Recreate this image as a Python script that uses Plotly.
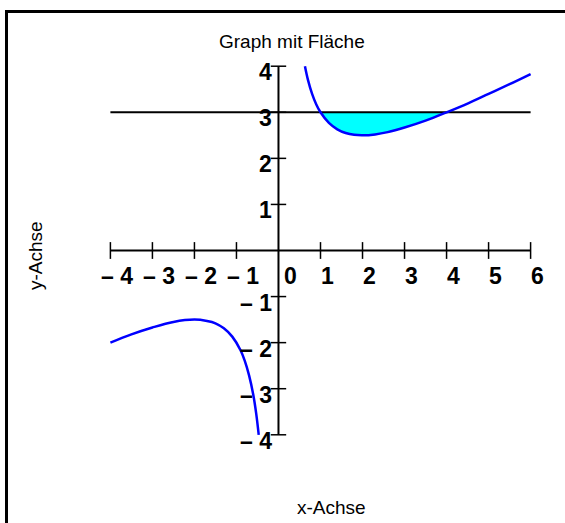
import plotly.graph_objects as go

# Curve samples, right branch (x > 0)
right_x = [0.63, 0.70, 0.80, 0.90, 1.00, 1.20, 1.40, 1.60, 1.80, 2.00,
           2.30, 2.60, 3.00, 3.50, 4.00, 4.50, 5.00, 5.50, 6.00]
right_y = [4.00, 3.71, 3.40, 3.17, 3.00, 2.77, 2.63, 2.55, 2.51, 2.50,
           2.52, 2.57, 2.67, 2.82, 3.00, 3.19, 3.40, 3.61, 3.83]

# Curve samples, left branch (x < 0)
left_x = [-4.00, -3.50, -3.00, -2.50, -2.00, -1.70, -1.50, -1.30, -1.10,
          -0.90, -0.80, -0.70, -0.60, -0.53, -0.47]
left_y = [-2.00, -1.82, -1.67, -1.55, -1.50, -1.53, -1.58, -1.69, -1.87,
          -2.17, -2.40, -2.71, -3.13, -3.54, -4.00]

# Horizontal bound of the shaded area and its x-interval
line_level = 3
area_from, area_to = 1.0, 4.0

x_ticks = [-4, -3, -2, -1, 1, 2, 3, 4, 5, 6]
y_ticks = [-4, -3, -2, -1, 1, 2, 3, 4]
x_min, x_max = -4, 6
y_min, y_max = -4, 4


def tick_text(v):
    return ("\u2013 " + str(abs(v))) if v < 0 else str(v)


fig = go.Figure()

# shaded area between the curve and the horizontal line
seg = [(x, y) for x, y in zip(right_x, right_y) if area_from <= x <= area_to]
poly_x = [p[0] for p in seg] + [area_to, area_from]
poly_y = [p[1] for p in seg] + [line_level, line_level]
fig.add_trace(go.Scatter(x=poly_x, y=poly_y, mode="lines", fill="toself",
                         fillcolor="#00FFFF", line=dict(width=0, color="#00FFFF"),
                         hoverinfo="skip"))

# horizontal line y = 3
fig.add_trace(go.Scatter(x=[x_min, x_max], y=[line_level, line_level], mode="lines",
                         line=dict(color="black", width=2)))

# coordinate axes
fig.add_trace(go.Scatter(x=[x_min, x_max], y=[0, 0], mode="lines",
                         line=dict(color="black", width=2)))
fig.add_trace(go.Scatter(x=[0, 0], y=[y_min, y_max], mode="lines",
                         line=dict(color="black", width=2)))

# tick marks
fig.add_trace(go.Scatter(x=x_ticks, y=[0] * len(x_ticks), mode="markers",
                         marker=dict(symbol="line-ns", size=12,
                                     line=dict(color="black", width=1.5))))
fig.add_trace(go.Scatter(x=[0] * len(y_ticks), y=y_ticks, mode="markers",
                         marker=dict(symbol="line-ew", size=11,
                                     line=dict(color="black", width=1.5))))

# function graph
fig.add_trace(go.Scatter(x=right_x, y=right_y, mode="lines", line_shape="spline",
                         line=dict(color="#0000FF", width=2.5)))
fig.add_trace(go.Scatter(x=left_x, y=left_y, mode="lines", line_shape="spline",
                         line=dict(color="#0000FF", width=2.5)))

label_font = dict(family="Liberation Sans, Arial, sans-serif", size=23,
                  color="black")
annotations = []
for v in x_ticks + [0]:
    annotations.append(dict(x=v, y=0, xref="x", yref="y", text="<b>%s</b>" % tick_text(v),
                            showarrow=False, font=label_font, xanchor="center",
                            yanchor="middle", xshift=12 if v == 0 else 6.5,
                            yshift=-25))
for v in y_ticks:
    annotations.append(dict(x=0, y=v, xref="x", yref="y", text="<b>%s</b>" % tick_text(v),
                            showarrow=False, font=label_font, xanchor="right",
                            yanchor="middle", xshift=-4, yshift=-6))

text_font = dict(family="Liberation Sans, Arial, sans-serif", size=19, color="black")
annotations += [
    dict(x=292, y=523 - 42, xref="paper", yref="paper", text="Graph mit Fläche",
         showarrow=False, font=text_font, xanchor="center", yanchor="middle"),
    dict(x=331, y=523 - 508, xref="paper", yref="paper", text="x-Achse",
         showarrow=False, font=text_font, xanchor="center", yanchor="middle"),
    dict(x=35, y=523 - 256, xref="paper", yref="paper", text="y-Achse",
         showarrow=False, font=text_font, textangle=-90, xanchor="center",
         yanchor="middle"),
]

L, R, T, B = 102, 26, 57, 79
W, H = 565, 523
pw, ph = W - L - R, H - T - B


def px_x(p):
    return (p - L) / pw


def px_y(p):
    return (H - B - p) / ph


# convert pixel-placed annotations into paper coordinates
for a in annotations:
    if a["xref"] == "paper":
        a["x"] = px_x(a["x"])
        a["y"] = px_y(H - a["y"])

fig.update_layout(
    width=W, height=H,
    margin=dict(l=L, r=R, t=T, b=B),
    paper_bgcolor="white", plot_bgcolor="white",
    showlegend=False,
    xaxis=dict(range=[-4.2, 6.2], visible=False, fixedrange=True),
    yaxis=dict(range=[-4.2, 4.2], visible=False, fixedrange=True),
    annotations=annotations,
    shapes=[dict(type="rect", xref="paper", yref="paper",
                 x0=px_x(6.5), x1=px_x(W + 20), y0=px_y(H + 20), y1=px_y(11.5),
                 line=dict(color="black", width=3), layer="above")],
)

fig.write_html("out.html")
